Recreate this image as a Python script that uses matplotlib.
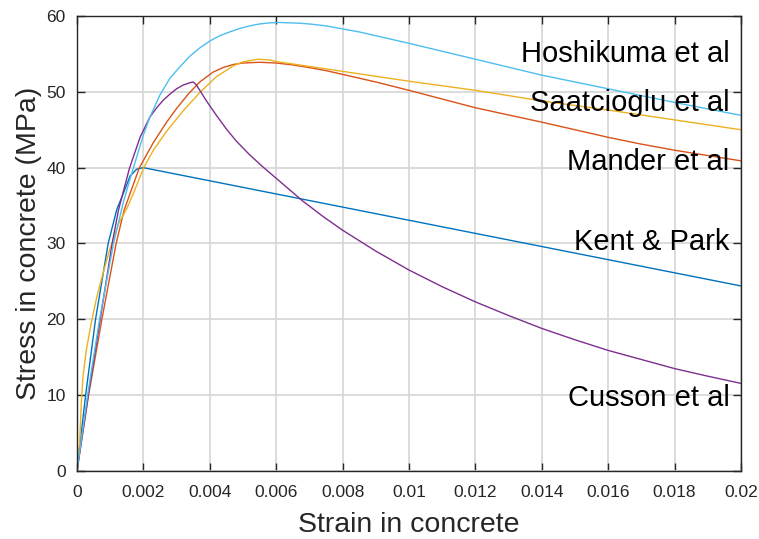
import matplotlib
matplotlib.use("Agg")
import matplotlib.pyplot as plt
import numpy as np

plt.rcParams['font.family'] = ['Liberation Sans', 'DejaVu Sans']

# stress-strain points for each confinement model (strain, MPa)
kent_strain = [0, 0.00026, 0.00056, 0.00094, 0.0012, 0.00145, 0.0016, 0.0018, 0.002, 0.02]
kent_stress = [0, 10, 20, 30, 34.5, 37.2, 38.9, 39.8, 40, 24.4]

mander_strain = [0, 0.00035, 0.00075, 0.00118, 0.00142, 0.00188, 0.0023, 0.0027, 0.003,
                 0.00335, 0.0037, 0.0041, 0.0044, 0.0047, 0.005, 0.0055, 0.006, 0.0065,
                 0.007, 0.0075, 0.008, 0.009, 0.01, 0.011, 0.012, 0.013, 0.014, 0.015,
                 0.016, 0.017, 0.018, 0.019, 0.02]
mander_stress = [0, 10, 20, 30, 34.4, 40, 43.3, 46.0, 47.8,
                 49.7, 51.3, 52.6, 53.2, 53.6, 53.8, 53.9, 53.8, 53.55,
                 53.2, 52.8, 52.3, 51.3, 50.2, 49.05, 47.9, 46.95, 46.0, 45.0,
                 44.0, 43.1, 42.3, 41.6, 40.9]

saat_strain = [0, 0.00008, 0.00013, 0.00018, 0.00028, 0.00043, 0.0006, 0.00078, 0.00098,
               0.00125, 0.0015, 0.0017, 0.002, 0.0023, 0.0027, 0.0032, 0.0037, 0.0042,
               0.0047, 0.005, 0.00545, 0.0058, 0.006, 0.007, 0.008, 0.009, 0.01, 0.011,
               0.012, 0.013, 0.014, 0.015, 0.016, 0.017, 0.018, 0.019, 0.02]
saat_stress = [0, 3.6, 8.9, 12.4, 15.9, 19.5, 23.0, 26.0, 29.1,
               32.6, 34.6, 36.6, 39.9, 42.3, 44.8, 47.5, 49.9, 52.0,
               53.4, 53.95, 54.3, 54.2, 54.0, 53.35, 52.7, 52.05, 51.4, 50.8,
               50.2, 49.5, 48.8, 48.2, 47.6, 46.95, 46.3, 45.65, 45.0]

hoshi_strain = [0, 0.00032, 0.00068, 0.0011, 0.0014, 0.0017, 0.002, 0.0022, 0.0025,
                0.0028, 0.0031, 0.0034, 0.0037, 0.004, 0.0043, 0.0046, 0.0049, 0.0052,
                0.0055, 0.0058, 0.0061, 0.0064, 0.0067, 0.007, 0.0075, 0.008, 0.0085,
                0.009, 0.0095, 0.01, 0.011, 0.012, 0.013, 0.014, 0.015, 0.016, 0.017,
                0.018, 0.019, 0.02]
hoshi_stress = [0, 10, 20, 30, 35.5, 40, 44.3, 46.7, 49.6,
                51.8, 53.3, 54.7, 55.8, 56.7, 57.4, 57.9, 58.35, 58.7,
                58.95, 59.1, 59.15, 59.1, 59.05, 58.95, 58.7, 58.3, 57.9,
                57.4, 56.9, 56.4, 55.35, 54.3, 53.25, 52.2, 51.3, 50.4, 49.5,
                48.6, 47.75, 46.9]

cusson_strain = [0, 0.00034, 0.0007, 0.00106, 0.00125, 0.00158, 0.0019, 0.0022, 0.0024,
                 0.0026, 0.0028, 0.003, 0.0032, 0.0034, 0.0035, 0.00358, 0.0037, 0.0039,
                 0.0042, 0.0045, 0.0048, 0.0052, 0.0056, 0.006, 0.0064, 0.0068, 0.0074,
                 0.008, 0.009, 0.01, 0.011, 0.012, 0.013, 0.014, 0.015, 0.016, 0.017,
                 0.018, 0.019, 0.02]
cusson_stress = [0, 10, 20, 30, 34.4, 39.9, 44.0, 46.7, 47.9,
                 48.9, 49.7, 50.4, 50.9, 51.2, 51.3, 51.0, 50.2, 48.8,
                 46.9, 45.1, 43.5, 41.7, 40.1, 38.6, 37.1, 35.6, 33.6,
                 31.75, 29.0, 26.5, 24.3, 22.3, 20.5, 18.8, 17.3, 15.9, 14.7,
                 13.5, 12.5, 11.55]

labels = ['Hoshikuma et al', 'Saatcioglu et al', 'Mander et al', 'Kent & Park', 'Cusson et al']
label_y = [55.0, 48.5, 40.7, 30.2, 9.6]

xticks = [0, 0.002, 0.004, 0.006, 0.008, 0.01, 0.012, 0.014, 0.016, 0.018, 0.02]
xtick_labels = ['0', '0.002', '0.004', '0.006', '0.008', '0.01', '0.012', '0.014', '0.016', '0.018', '0.02']
yticks = [0, 10, 20, 30, 40, 50, 60]

fig = plt.figure(figsize=(7.59, 5.39), dpi=100)
ax = fig.add_axes([0.1014, 0.1262, 0.8749, 0.8441])

ax.plot(kent_strain, kent_stress, color='#0072BD', lw=1.0)
ax.plot(mander_strain, mander_stress, color='#D95319', lw=1.0)
ax.plot(saat_strain, saat_stress, color='#EDB120', lw=1.0)
ax.plot(cusson_strain, cusson_stress, color='#7E2F8E', lw=1.0)
ax.plot(hoshi_strain, hoshi_stress, color='#4DBEEE', lw=1.0)

for txt, yy in zip(labels, label_y):
    ax.text(0.01965, yy, txt, ha='right', va='center', fontsize=21, color='black')

ax.set_xlim(0, 0.02)
ax.set_ylim(0, 60)
ax.set_xticks(xticks)
ax.set_xticklabels(xtick_labels)
ax.set_yticks(yticks)
ax.grid(True, color='#d6d6d6', lw=1.2)
ax.set_axisbelow(True)
ax.tick_params(direction='in', length=6, width=1.0, colors='#262626', labelsize=12.5,
               top=True, right=True)
ax.tick_params(axis='x', pad=10)
ax.tick_params(axis='y', pad=8)
for sp in ax.spines.values():
    sp.set_color('#262626')
    sp.set_linewidth(1.0)

ax.set_xlabel('Strain in concrete', fontsize=20.5, color='#262626', labelpad=9)
ax.set_ylabel('Stress in concrete (MPa)', fontsize=20.5, color='#262626', labelpad=3)

fig.savefig('out.png', dpi=100)
